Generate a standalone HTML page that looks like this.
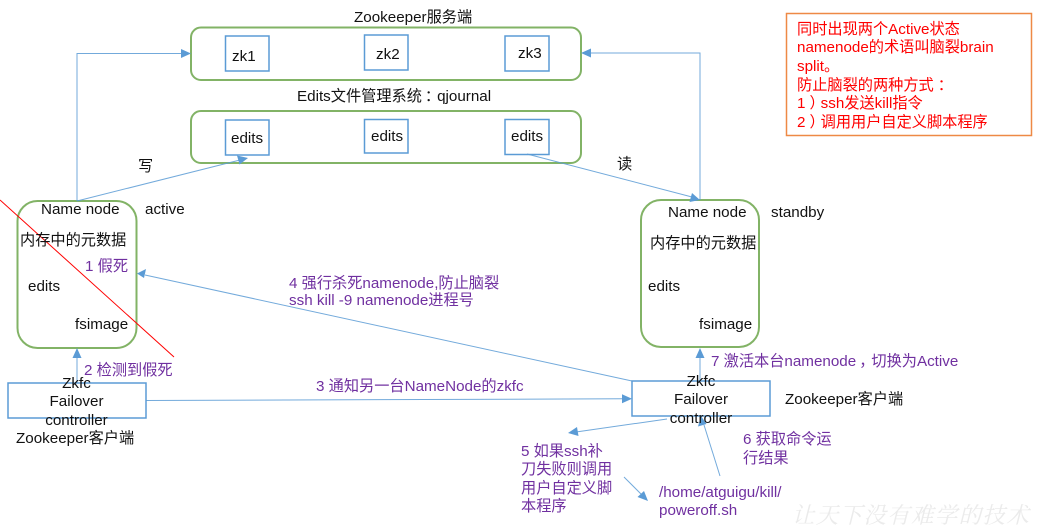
<!DOCTYPE html>
<html><head><meta charset="utf-8"><style>
html,body{margin:0;padding:0;background:#fff}
svg{display:block}
text{font-family:"Liberation Sans","Noto Sans CJK SC",sans-serif;font-size:15.2px;fill:#111}
.p{fill:#7030a0}
.r{fill:#f00}
.g{fill:none;stroke:#82b366;stroke-width:2}
.b{fill:#fff;stroke:#5b9bd5;stroke-width:1.5}
.l{fill:none;stroke:#5b9bd5;stroke-width:1;opacity:.85}
.a{fill:#5b9bd5}
</style></head><body>
<svg width="1037" height="525" viewBox="0 0 1037 525" xmlns="http://www.w3.org/2000/svg">
<rect class="g" x="191" y="27.5" width="390" height="52.5" rx="10"/>
<rect class="g" x="191" y="111" width="390" height="52" rx="10"/>
<rect class="b" x="225.5" y="36" width="43.5" height="35"/>
<rect class="b" x="364.5" y="35" width="43.5" height="35"/>
<rect class="b" x="505" y="36" width="44" height="35"/>
<rect class="b" x="225.5" y="120" width="43.5" height="35"/>
<rect class="b" x="364.5" y="119.5" width="43.5" height="33.5"/>
<rect class="b" x="505" y="119.5" width="44" height="35"/>
<rect class="g" x="17.5" y="201" width="119" height="147" rx="20"/>
<rect class="g" x="641" y="200" width="118" height="147" rx="20"/>
<rect class="b" x="8" y="383" width="138" height="35"/>
<rect class="b" x="632" y="381" width="138" height="35"/>

<path class="l" d="M77 201V53.500H183"/><path class="a" d="M191 53.500l-10-4.500v9z"/>
<path class="l" d="M700 200V53H588"/><path class="a" d="M581 53l10-4.500v9z"/>
<path class="l" d="M77 201L240 160"/><path class="a" d="M248 158l-11-2.500 2.500 9z"/>
<path class="l" d="M527 154L692 197"/><path class="a" d="M700 200l-10.500 2 2.500-9z"/>
<path class="l" d="M77 383V356"/><path class="a" d="M77 348l-4.500 10h9z"/>
<path class="l" d="M700 381V356"/><path class="a" d="M700 348l-4.500 10h9z"/>
<path class="l" d="M146 400.500L624 398.800"/><path class="a" d="M632 398.800l-10-4.500v9z"/>
<path class="l" d="M632 381L145 275"/><path class="a" d="M137 273.500l9-4.500-2 9z"/>
<path class="l" d="M667 419L576 432"/><path class="a" d="M568 433l9-6 1.500 9z"/>
<path class="l" d="M720 476L704 425"/><path class="a" d="M701 416l-3 10.500 8.500-2.500z"/>
<path class="l" d="M624 477L642 495"/><path class="a" d="M648 501l-10.500-4 6.500-6z"/>
<path d="M0 200L174 357" stroke="#f00" stroke-width="1" fill="none"/>

<text x="354" y="22">Zookeeper服务端</text>
<text x="297" y="101">Edits文件管理系统<tspan dx="3">：</tspan><tspan dx="-3">qjournal</tspan></text>
<text x="232" y="61">zk1</text>
<text x="376" y="59">zk2</text>
<text x="518" y="58">zk3</text>
<text x="231" y="143">edits</text>
<text x="371" y="141">edits</text>
<text x="511" y="141">edits</text>
<text x="138" y="171">写</text>
<text x="617" y="169">读</text>

<text x="41" y="214">Name node</text>
<text x="145" y="214">active</text>
<text x="20" y="245">内存中的元数据</text>
<text x="28" y="291">edits</text>
<text x="75" y="329">fsimage</text>

<text x="668" y="217">Name node</text>
<text x="771" y="217">standby</text>
<text x="650" y="248">内存中的元数据</text>
<text x="648" y="291">edits</text>
<text x="699" y="329">fsimage</text>

<text x="76.500" y="388" text-anchor="middle">Zkfc</text>
<text x="76.500" y="406" text-anchor="middle">Failover</text>
<text x="76.500" y="425" text-anchor="middle">controller</text>
<text x="16" y="443">Zookeeper客户端</text>

<text x="701" y="386" text-anchor="middle">Zkfc</text>
<text x="701" y="404" text-anchor="middle">Failover</text>
<text x="701" y="423" text-anchor="middle">controller</text>
<text x="785" y="404">Zookeeper客户端</text>

<text class="p" x="85" y="271">1 假死</text>
<text class="p" x="84" y="375">2 检测到假死</text>
<text class="p" x="316" y="391">3 通知另一台NameNode的zkfc</text>
<text class="p" x="289" y="288">4 强行杀死namenode,防止脑裂</text>
<text class="p" x="289" y="305">ssh kill -9 namenode进程号</text>
<text class="p" x="521" y="456">5 如果ssh补</text>
<text class="p" x="521" y="474">刀失败则调用</text>
<text class="p" x="521" y="493">用户自定义脚</text>
<text class="p" x="521" y="511">本程序</text>
<text class="p" x="743" y="444">6 获取命令运</text>
<text class="p" x="743" y="463">行结果</text>
<text class="p" x="711" y="366">7 激活本台namenode<tspan dx="3">，</tspan><tspan dx="-3">切换为Active</tspan></text>
<text class="p" x="659" y="497">/home/atguigu/kill/</text>
<text class="p" x="659" y="515">poweroff.sh</text>

<rect x="786.500" y="13.500" width="245" height="122" fill="#fff" stroke="#ed7d31" stroke-width="1.500" opacity=".9"/>
<text class="r" x="797" y="34">同时出现两个Active状态</text>
<text class="r" x="797" y="52">namenode的术语叫脑裂brain</text>
<text class="r" x="797" y="71">split。</text>
<text class="r" x="797" y="90">防止脑裂的两种方式<tspan dx="4">：</tspan></text>
<text class="r" x="797" y="108">1<tspan dx="4">）</tspan><tspan dx="-4">ssh发送kill指令</tspan></text>
<text class="r" x="797" y="127">2<tspan dx="4">）</tspan><tspan dx="-4">调用用户自定义脚本程序</tspan></text>

<text x="792" y="523" style="font-family:'Noto Serif CJK SC',serif;font-size:22.500px;fill:#ebebeb;font-style:italic;letter-spacing:1.300px">让天下没有难学的技术</text>
</svg>
</body></html>
